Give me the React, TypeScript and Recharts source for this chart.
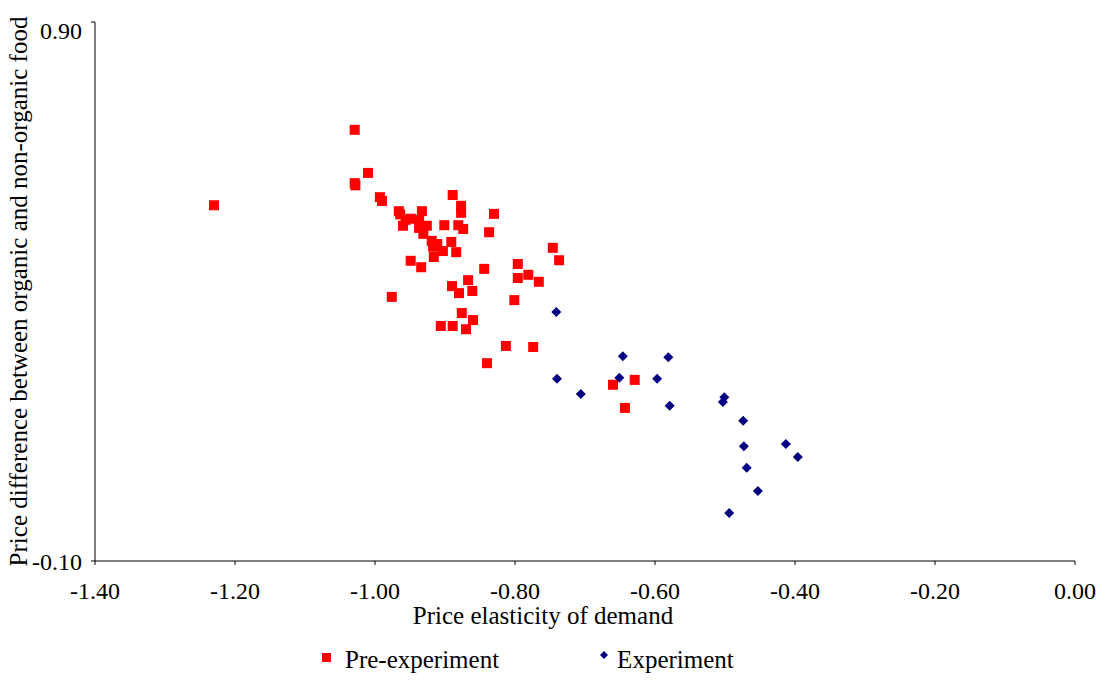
import { Legend, Scatter, ScatterChart, XAxis, YAxis } from 'recharts';

// pre-experiment observations: [elasticity, price difference]
const preElasticity = [
  -1.23, -1.029, -1.029, -1.028, -1.01, -0.993, -0.99, -0.966, -0.964, -0.933,
  -0.889, -0.877, -0.877, -0.83, -0.96, -0.949, -0.956, -0.937, -0.937, -0.926,
  -0.931, -0.901, -0.881, -0.874, -0.837, -0.919, -0.911, -0.917, -0.903, -0.891,
  -0.884, -0.916, -0.949, -0.934, -0.844, -0.796, -0.746, -0.737, -0.796, -0.781,
  -0.766, -0.867, -0.89, -0.88, -0.861, -0.976, -0.801, -0.876, -0.86, -0.906,
  -0.889, -0.87, -0.813, -0.774, -0.84, -0.66, -0.629, -0.643,
];
const prePriceDiff = [
  0.56, 0.7, 0.601, 0.597, 0.62, 0.575, 0.568, 0.549, 0.543, 0.549,
  0.579, 0.559, 0.546, 0.544, 0.522, 0.535, 0.533, 0.533, 0.518, 0.522,
  0.507, 0.523, 0.523, 0.516, 0.51, 0.494, 0.488, 0.483, 0.475, 0.492,
  0.473, 0.464, 0.457, 0.445, 0.442, 0.451, 0.481, 0.458, 0.425, 0.431,
  0.418, 0.421, 0.41, 0.397, 0.401, 0.39, 0.384, 0.36, 0.347, 0.336,
  0.336, 0.33, 0.299, 0.297, 0.267, 0.227, 0.236, 0.184,
];

const expElasticity = [
  -0.741, -0.646, -0.581, -0.74, -0.651, -0.597, -0.706, -0.579, -0.501,
  -0.503, -0.474, -0.473, -0.413, -0.396, -0.469, -0.453, -0.494,
];
const expPriceDiff = [
  0.362, 0.28, 0.278, 0.238, 0.24, 0.238, 0.21, 0.188, 0.204,
  0.195, 0.16, 0.113, 0.117, 0.093, 0.073, 0.03, -0.011,
];

const xTicks = [-1.4, -1.2, -1.0, -0.8, -0.6, -0.4, -0.2, 0];
const yTicks = [-0.1, 0.9];

const preData = preElasticity.map((x, i) => ({ x, y: prePriceDiff[i] }));
const expData = expElasticity.map((x, i) => ({ x, y: expPriceDiff[i] }));

const FONT = '"Liberation Serif", "Times New Roman", serif';
const RED = '#ff0000';
const NAVY = '#000080';

const Square = (props: any) => {
  const { cx, cy } = props;
  return <rect x={cx - 5} y={cy - 5} width={10} height={10} fill={RED} />;
};

const Diamond = (props: any) => {
  const { cx, cy } = props;
  return (
    <polygon
      points={`${cx},${cy - 5} ${cx + 5},${cy} ${cx},${cy + 5} ${cx - 5},${cy}`}
      fill={NAVY}
    />
  );
};

// top label sits a little below its tick, like the original
const YTick = (props: any) => {
  const { x, y, payload } = props;
  const shift = payload.value > 0.5 ? 8 : 0;
  return (
    <text
      x={x}
      y={y + shift}
      dy="0.355em"
      textAnchor="end"
      fontFamily={FONT}
      fontSize={24}
      fill="#000"
    >
      {Number(payload.value).toFixed(2)}
    </text>
  );
};

const LegendBox = () => (
  <div
    style={{
      display: 'flex',
      alignItems: 'center',
      fontFamily: FONT,
      fontSize: 25,
      color: '#000',
      paddingTop: 17,
      paddingLeft: 322,
    }}
  >
    <svg width={9} height={9} style={{ marginRight: 14, position: 'relative', top: -3 }}>
      <rect width={9} height={9} fill={RED} />
    </svg>
    <span style={{ marginRight: 101 }}>Pre-experiment</span>
    <svg width={8} height={8} style={{ marginRight: 9, position: 'relative', top: -5 }}>
      <polygon points="4,0 8,4 4,8 0,4" fill={NAVY} />
    </svg>
    <span>Experiment</span>
  </div>
);

export default function App() {
  return (
    <div style={{ position: 'absolute', left: 0, top: 0, background: '#fff' }}>
      <ScatterChart
        width={1112}
        height={681}
        margin={{ top: 22, right: 37, left: 0, bottom: 0 }}
      >
        <XAxis
          type="number"
          dataKey="x"
          domain={[-1.4, 0]}
          ticks={xTicks}
          tickFormatter={(v: number) => v.toFixed(2)}
          tick={{ fontFamily: FONT, fontSize: 24, fill: '#000' }}
          tickSize={4}
          tickMargin={17}
          axisLine={{ stroke: '#000' }}
          tickLine={{ stroke: '#000' }}
          height={68}
          label={{
            value: 'Price elasticity of demand',
            position: 'insideBottom',
            offset: 5,
            dx: -42,
            style: { fontFamily: FONT, fontSize: 25, fill: '#000' },
          }}
        />
        <YAxis
          type="number"
          dataKey="y"
          domain={[-0.1, 0.9]}
          ticks={yTicks}
          tick={<YTick />}
          tickSize={4}
          tickMargin={9}
          width={95}
          axisLine={{ stroke: '#000' }}
          tickLine={{ stroke: '#000' }}
          label={{
            value: 'Price difference between organic and non-organic food',
            angle: -90,
            position: 'insideLeft',
            offset: 18,
            style: { fontFamily: FONT, fontSize: 25, fill: '#000', textAnchor: 'middle' },
          }}
        />
        <Legend verticalAlign="bottom" height={52} content={<LegendBox />} />
        <Scatter
          name="Pre-experiment"
          data={preData}
          shape={<Square />}
          isAnimationActive={false}
        />
        <Scatter
          name="Experiment"
          data={expData}
          shape={<Diamond />}
          isAnimationActive={false}
        />
      </ScatterChart>
    </div>
  );
}
